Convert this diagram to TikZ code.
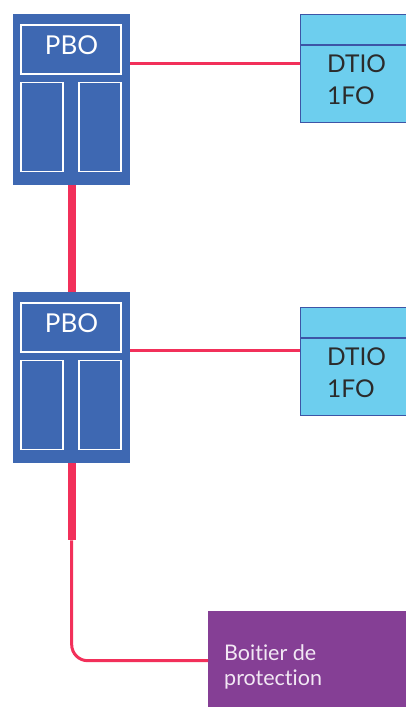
\documentclass[tikz,border=0pt]{standalone}
\usepackage{fontspec}
\setmainfont{Lato}[Ligatures=CommonOff]
\usetikzlibrary{positioning}

\definecolor{pboblue}{HTML}{3E68B2}
\definecolor{dtiofill}{HTML}{6DCEEE}
\definecolor{dtioedge}{HTML}{3D55A6}
\definecolor{fibrered}{HTML}{F2305A}
\definecolor{boitierpurple}{HTML}{853F95}
\definecolor{boitiertext}{HTML}{F2E8F4}
\definecolor{darktext}{HTML}{2B2B2B}

\begin{document}
\begin{tikzpicture}[x=1pt,y=-1pt,
        pbo/.style={fill=pboblue, minimum width=117pt, minimum height=171pt, anchor=north west, inner sep=0pt},
        slot/.style={draw=white, line width=1.4pt},
        pbotext/.style={text=white, inner sep=0pt, anchor=base, font=\fontsize{26}{30}\selectfont},
        dtio/.style={fill=dtiofill, draw=dtioedge, line width=1.3pt, minimum width=112pt, minimum height=108pt, anchor=north west, inner sep=0pt},
        dtiotext/.style={text=darktext, inner sep=0pt, anchor=north west, align=left, font=\fontsize{24.5}{32}\selectfont},
        boitier/.style={fill=boitierpurple, minimum width=202pt, minimum height=99pt, anchor=north west, inner sep=0pt},
        boitiertxt/.style={text=boitiertext, inner sep=0pt, anchor=north west, align=left, font=\fontsize{21.5}{25.5}\selectfont},
        fibre/.style={draw=fibrered, line width=3pt},
        cable/.style={draw=fibrered, line width=8pt}]
        \useasboundingbox (0,0) rectangle (406,707);

        % PBO boxes
        \foreach \n/\y in {1/14,2/292} {
        \node[pbo] (pbo\n) at (13,\y) {};
        \draw[slot] ([shift={(8,11)}]pbo\n.north west) rectangle ++(100,49);
        \draw[slot] ([shift={(8,68.5)}]pbo\n.north west) rectangle ++(42,89);
        \draw[slot] ([shift={(66,68.5)}]pbo\n.north west) rectangle ++(42,89);
        \node[pbotext] (pbolabel\n) at ([shift={(58.5,40)}]pbo\n.north west) {PBO};
        }

        % DTIO boxes
        \foreach \n/\y in {1/14,2/307} {
        \node[dtio] (dtio\n) at (300,\y) {};
        \draw[dtioedge, line width=1.3pt] ([yshift=-31pt]dtio\n.north west) -- ([yshift=-31pt]dtio\n.north east);
        \node[dtiotext] (dtiolabel\n) at ([shift={(27,41)}]dtio\n.north west) {DTIO\\1FO};
        }

        % protection box
        \node[boitier] (boitier) at (208,611) {};
        \node[boitiertxt] (boitierlabel) at ([shift={(16,33)}]boitier.north west) {Boitier de\\protection};

        % fibres
        \draw[fibre] ([yshift=-49pt]pbo1.north east) coordinate (f1) -- (f1 -| dtio1.west);
        \draw[fibre] ([yshift=-58pt]pbo2.north east) coordinate (f2) -- (f2 -| dtio2.west);
        \draw[cable] (pbo1.south) -- (pbo2.north);
        \coordinate (kink) at ([yshift=-77pt]pbo2.south);
        \draw[cable] (pbo2.south) -- (kink);
        \draw[fibre, rounded corners=16pt] (kink) |- (boitier.west);
\end{tikzpicture}
\end{document}
